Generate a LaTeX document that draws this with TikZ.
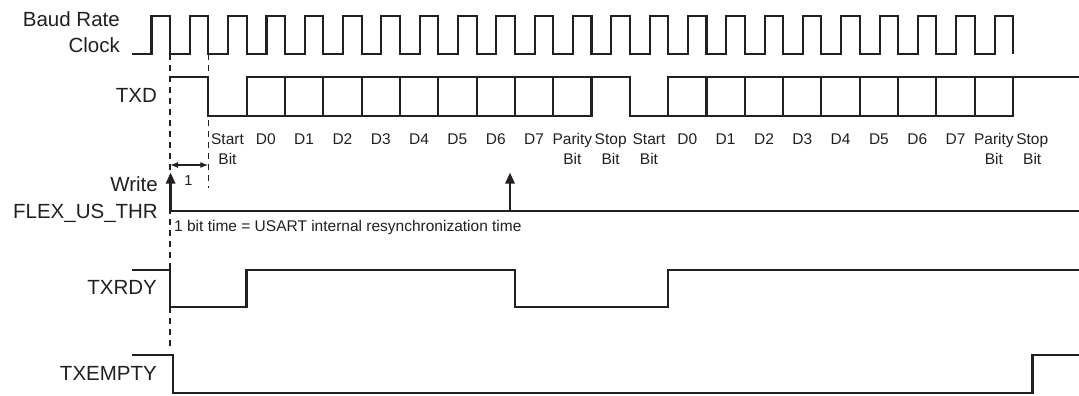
\documentclass[tikz,border=0pt]{standalone}
\usepackage{fontspec}
\setmainfont{Liberation Sans}
\usetikzlibrary{arrows.meta}
\definecolor{ink}{HTML}{231F20}
\begin{document}
\begin{tikzpicture}[x=1pt,y=-1pt,
 sig/.style={draw=ink,line width=2.1pt},
 sigb/.style={draw=ink,line width=2.5pt},
 guide/.style={draw=ink,line width=1.1pt,dash pattern=on 6pt off 5pt},
 lbl/.style={text=ink,font=\fontsize{20.5}{24}\selectfont,inner sep=0pt,anchor=base east},
 bitl/.style={text=ink,font=\fontsize{15.5}{18}\selectfont,inner sep=0pt,anchor=base},
 note/.style={text=ink,font=\fontsize{15.5}{18}\selectfont,inner sep=0pt,anchor=base west},
 wrtip/.style={-{Triangle[width=9pt,length=11pt]}},
 dim/.style={draw=ink,line width=1.3pt,{Latex[width=6pt,length=8pt]}-{Latex[width=6pt,length=8pt]}}
]
\useasboundingbox (0,0) rectangle (1079,396);

% labels
\node[lbl] (baud) at (120,26.7) {Baud Rate};
\node[lbl] (clk) at (120,52.3) {Clock};
\node[lbl] (txd) at (157,102.7) {TXD};
\node[lbl] (write) at (158,191.7) {Write};
\node[lbl] (thr) at (158,218.3) {FLEX\_US\_THR};
\node[lbl] (rdy) at (157,294) {TXRDY};
\node[lbl] (emp) at (157,380) {TXEMPTY};

% clock
\draw[sig] (132,54) foreach \k in {0,...,22} { -- ({151.5+38.32*\k},54) |- ({170+38.32*\k},15.7) -- ({170+38.32*\k},54) };

% TXD
\draw[sig] (170,77.3) -- (208.32,77.3) -- (208.32,116) -- (246.64,116) -- (246.64,77.3) -- (629.84,77.3) -- (629.84,116) -- (668.16,116) -- (668.16,77.3) -- (1079,77.3);
\draw[sig] (246.64,116) -- (591.52,116) -- (591.52,77.3);
\draw[sig] (668.16,116) -- (1013.04,116) -- (1013.04,77.3);
\foreach \k in {3,...,10} \draw[sig] ({170+38.32*\k},77.3) -- ({170+38.32*\k},116);
\foreach \k in {14,...,21} \draw[sig] ({170+38.32*\k},77.3) -- ({170+38.32*\k},116);

% bit labels
\foreach \k/\t in {1/Start,2/D0,3/D1,4/D2,5/D3,6/D4,7/D5,8/D6,9/D7,10/Parity,11/Stop,12/Start,13/D0,14/D1,15/D2,16/D3,17/D4,18/D5,19/D6,20/D7,21/Parity,22/Stop}
  \node[bitl] (bt\k) at ({170+38.32*(\k+0.5)},144) {\t};
\foreach \k in {1,10,11,12,21,22}
  \node[bitl] (bb\k) at ({170+38.32*(\k+0.5)},164) {Bit};

% guides
\draw[guide] (170,54) -- (170,350);
\draw[guide] (208.32,54) -- (208.32,188);
\coordinate (d0) at (170,165);
\coordinate (d1) at (208.32,165);
\draw[dim] (d0) -- (d1);
\node[bitl,font=\fontsize{14.5}{17}\selectfont] (one) at (188.5,185) {1};

% write
\coordinate (wa) at (170.6,172.5);
\coordinate (wb) at (170.6,211);
\coordinate (wc) at (510,172.5);
\coordinate (wd) at (510,211);
\draw[sigb,{Triangle[width=9pt,length=11pt]}-] (wa) -- (wb) -- (1079,211);
\draw[sigb,wrtip] (wd) -- (wc);
\node[note] (bit) at (174,231.7) {1 bit time = USART internal resynchronization time};

% TXRDY
\draw[sigb] (132,270) -- (170,270) -- (170,307) -- (246.64,307) -- (246.64,270) -- (514.88,270) -- (514.88,307) -- (668.16,307) -- (668.16,270) -- (1079,270);
% TXEMPTY
\draw[sigb] (132,355) -- (173,355) -- (173,393) -- (1032.7,393) -- (1032.7,355) -- (1079,355);
\end{tikzpicture}
\end{document}
